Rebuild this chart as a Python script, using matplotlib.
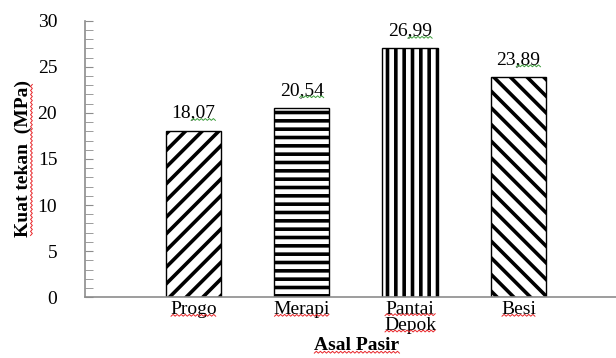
import numpy as np
import matplotlib.pyplot as plt
from matplotlib.lines import Line2D
from matplotlib.transforms import IdentityTransform

plt.rcParams['font.family'] = ['Liberation Serif', 'DejaVu Serif']
plt.rcParams['hatch.linewidth'] = 2.6

# Compressive strength by sand origin
categories = ['Progo', 'Merapi', 'Pantai\nDepok', 'Besi']
strength = [18.07, 20.54, 26.99, 23.89]
hatches = ['//', '--', '||', '\\\\']

FS = 14

fig = plt.figure(figsize=(6.16, 3.58), dpi=100)
ax = fig.add_axes([0.138, 0.17, 0.862, 0.772])

x = np.arange(len(categories))
bars = ax.bar(x, strength, width=0.51, color='white', edgecolor='black',
              linewidth=1.0, hatch=hatches, zorder=2)

value_texts = []
for xi, v in zip(x, strength):
    t = ax.text(xi, v + 1.0, f'{v:.2f}'.replace('.', ','), ha='center',
                va='bottom', fontsize=FS)
    value_texts.append(t)

ax.set_xlim(-1.0, 3.9)
ax.set_ylim(0, 30)
ax.set_yticks(range(0, 31, 5))
ax.set_yticks(range(0, 31), minor=True)
ax.set_xticks(x)
ax.set_xticklabels(categories, fontsize=FS, linespacing=0.9)

ax.tick_params(axis='y', which='both', direction='in', length=6,
               color='#8c8c8c', labelsize=FS, pad=20)
ax.tick_params(axis='x', length=0, pad=3)

for side in ['top', 'right']:
    ax.spines[side].set_visible(False)
for side in ['left', 'bottom']:
    ax.spines[side].set_color('#8c8c8c')
    ax.spines[side].set_linewidth(1.2)

ax.set_ylabel('Kuat tekan  (MPa)', fontsize=FS, fontweight='bold')
ax.yaxis.set_label_coords(-0.099, 0.5)
ax.set_xlabel('Asal Pasir', fontsize=FS, fontweight='bold')
ax.xaxis.set_label_coords(0.512, -0.145)


# spell-checker style wavy underlines
def wave(x0, x1, y, color, vertical=False):
    n = max(int(abs(x1 - x0) / 2), 2)
    s = np.linspace(x0, x1, n + 1)
    off = np.where(np.arange(n + 1) % 2 == 0, -0.9, 0.9)
    if vertical:
        xs, ys = y + off, s
    else:
        xs, ys = s, y + off
    fig.add_artist(Line2D(xs, ys, transform=IdentityTransform(),
                          color=color, lw=0.7))


fig.canvas.draw()
r = fig.canvas.get_renderer()
red, green = '#e8262a', '#3c9e3c'

for t in ax.get_xticklabels():
    bb = t.get_window_extent(r)
    lines = t.get_text().split('\n')
    h = bb.height / len(lines)
    for i in range(len(lines)):
        wave(bb.x0 + 1, bb.x1 - 1, bb.y1 - h * (i + 1) + 3, red)

for t in value_texts:
    bb = t.get_window_extent(r)
    wave(bb.x0 + bb.width * 0.45, bb.x1, bb.y0 + 2, green)

bb = ax.xaxis.label.get_window_extent(r)
wave(bb.x0, bb.x1, bb.y0 + 2, red)

bb = ax.yaxis.label.get_window_extent(r)
wave(bb.y0 + 2, bb.y1 - 4, bb.x1 - 1, red, vertical=True)

fig.savefig('out.png', dpi=100)
